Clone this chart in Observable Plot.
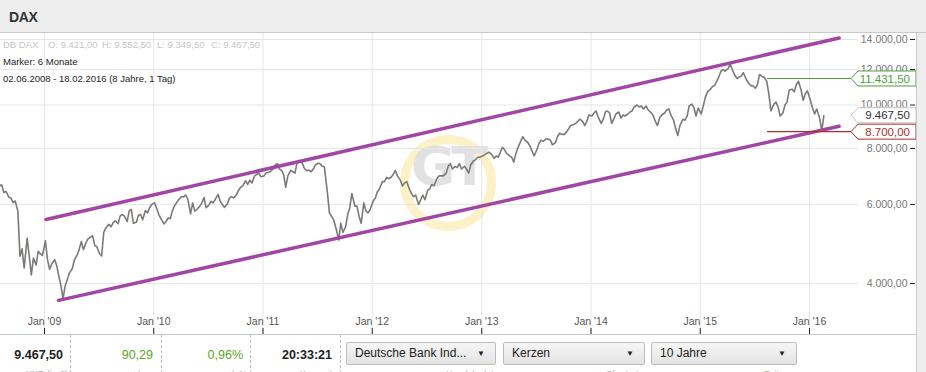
<!DOCTYPE html>
<html><head><meta charset="utf-8">
<script src="https://cdn.jsdelivr.net/npm/d3@7"></script>
<script src="https://cdn.jsdelivr.net/npm/@observablehq/plot@0.6"></script>
<style>
html,body{margin:0;padding:0;}
body{width:926px;height:372px;overflow:hidden;background:#eeeeee;font-family:Arial,"Liberation Sans",sans-serif;position:relative;}
#hdr{position:absolute;left:0;top:0;width:926px;height:32px;border-bottom:1px solid #c9c9c9;}
#hdr span{position:absolute;left:9px;top:9px;font-weight:bold;font-size:14px;color:#333;letter-spacing:-0.3px;}
#panel{position:absolute;left:0;top:33px;width:916px;height:339px;background:#fff;border-right:1px solid #c9c9c9;overflow:hidden;}
#wm{position:absolute;left:400px;top:102px;width:96px;height:96px;box-sizing:border-box;border:9px solid #fdf1c8;border-radius:50%;}
#wmt{position:absolute;left:400px;top:102px;width:96px;height:96px;line-height:96px;text-align:center;font:bold 54px "DejaVu Sans",Arial,sans-serif;color:#e1e1e1;letter-spacing:-3px;}
#chart{position:absolute;left:0;top:0;width:916px;height:301px;}
.info{position:absolute;left:3px;font-size:9.5px;white-space:nowrap;}
.info span{position:absolute;top:0;}
#bar{position:absolute;left:0;top:301px;width:916px;height:38px;border-top:1px solid #c9c9c9;}
.sep{position:absolute;top:0;height:38px;border-left:1px dashed #bdbdbd;}
.val{position:absolute;top:13px;font-size:12.5px;text-align:right;white-space:nowrap;}
.dd{position:absolute;top:7px;height:23px;box-sizing:border-box;border:1px solid #bdbdbd;border-radius:2px;background:linear-gradient(#f6f6f6,#e3e3e3);font-size:12px;color:#222;line-height:21px;padding-left:8px;}
.dd b{position:absolute;right:10px;top:0;font-size:8px;font-weight:normal;}
.sub{position:absolute;top:34px;font-size:9px;color:#aaa;white-space:nowrap;}
</style></head>
<body>
<div id="hdr"><span>DAX</span></div>
<div id="panel">
  <div id="wm"></div><div id="wmt">GT</div>
  <div id="chart"></div>
  <div class="info" style="top:6px;color:#c6c6c6;">
    <span style="left:0">DB DAX</span><span style="left:45px">O: 9.421,00</span><span style="left:99px">H: 9.552,50</span><span style="left:154px">L: 9.349,50</span><span style="left:208px">C: 9.467,50</span>
  </div>
  <div class="info" style="top:23px;color:#222;">Marker: 6 Monate</div>
  <div class="info" style="top:40px;color:#222;">02.06.2008 - 18.02.2016 (8 Jahre, 1 Tag)</div>
  <div id="bar">
    <div class="sep" style="left:70px"></div><div class="sep" style="left:161px"></div><div class="sep" style="left:250px"></div><div class="sep" style="left:340px"></div>
    <div class="val" style="right:853px;font-weight:bold;color:#222">9.467,50</div>
    <div class="val" style="right:763px;color:#5aa51e">90,29</div>
    <div class="val" style="right:673px;color:#5aa51e">0,96%</div>
    <div class="val" style="right:584px;font-weight:bold;color:#222">20:33:21</div>
    <div class="dd" style="left:346px;width:150px">Deutsche Bank Ind...<b>▼</b></div>
    <div class="dd" style="left:503px;width:142px">Kerzen<b>▼</b></div>
    <div class="dd" style="left:651px;width:146px">10 Jahre<b>▼</b></div>
    <div class="sub" style="left:26px">XXD (in €)</div>
    <div class="sub" style="left:132px">+/-</div>
    <div class="sub" style="left:226px">+/- %</div>
    <div class="sub" style="left:300px">Kurszeit</div>
    <div class="sub" style="left:446px">Handelsplatz</div>
    <div class="sub" style="left:606px">Chartart</div>
    <div class="sub" style="left:764px">Zeitraum</div>
  </div>
</div>
<script>
// ---- data ----
const days = ["04","11","18","25"];
const months = [
"2008-06","2008-07","2008-08","2008-09","2008-10","2008-11","2008-12",
"2009-01","2009-02","2009-03","2009-04","2009-05","2009-06","2009-07","2009-08","2009-09","2009-10","2009-11","2009-12",
"2010-01","2010-02","2010-03","2010-04","2010-05","2010-06","2010-07","2010-08","2010-09","2010-10","2010-11","2010-12",
"2011-01","2011-02","2011-03","2011-04","2011-05","2011-06","2011-07","2011-08","2011-09","2011-10","2011-11","2011-12",
"2012-01","2012-02","2012-03","2012-04","2012-05","2012-06","2012-07","2012-08","2012-09","2012-10","2012-11","2012-12",
"2013-01","2013-02","2013-03","2013-04","2013-05","2013-06","2013-07","2013-08","2013-09","2013-10","2013-11","2013-12",
"2014-01","2014-02","2014-03","2014-04","2014-05","2014-06","2014-07","2014-08","2014-09","2014-10","2014-11","2014-12",
"2015-01","2015-02","2015-03","2015-04","2015-05","2015-06","2015-07","2015-08","2015-09","2015-10","2015-11","2015-12",
"2016-01","2016-02"];
const dax = [
[6950,6780,6650,6450],[6280,6200,6420,6480],[6600,6640,6380,6420],[6230,6200,6060,6110],[5800,4600,4780,4330],[5050,4600,4180,4560],[4400,4720,4660,4620],
[4980,4520,4300,4420],[4520,4380,4150,3950],[3700,3950,4080,4220],[4320,4520,4600,4720],[4960,4760,4900,5020],[5080,5110,4860,4830],[4660,4610,5200,5320],[5420,5350,5460,5520],[5440,5660,5700,5650],[5500,5800,5850,5450],[5480,5680,5700,5550],[5820,5750,5900,6000],
[6050,5880,5700,5580],[5430,5500,5600,5580],[5800,5950,6050,6150],[6250,6240,6300,6160],[5720,6050,5800,5850],[5950,6060,6220,5900],[5980,6100,6050,6150],[6320,6100,6000,5910],[6020,6200,6250,6210],[6300,6450,6550,6600],[6780,6650,6800,6700],[6950,7000,7050,6920],
[6950,7050,7070,7100],[7200,7350,7400,7200],[7150,7000,6550,6950],[7150,7100,7050,7450],[7520,7450,7250,7150],[7150,7100,7200,7350],[7420,7400,7300,7280],[6400,5750,5650,5550],[5250,5000,5450,5200],[5350,5700,5900,6350],[5950,5950,5650,5450],[6050,5800,5750,5850],
[6100,6200,6400,6500],[6750,6750,6900,6850],[6900,7000,7150,6950],[6800,6600,6700,6750],[6500,6350,6250,6300],[6000,6150,6300,6150],[6450,6500,6650,6600],[6850,6950,6950,6950],[7050,7300,7400,7200],[7300,7250,7400,7200],[7300,7200,7050,7350],[7500,7550,7650,7650],
[7700,7750,7800,7850],[7750,7600,7700,7650],[7850,8050,7950,7800],[7700,7650,7460,7800],[8100,8300,8500,8350],[8250,8100,7900,7700],[7950,8200,8350,8300],[8400,8400,8350,8150],[8250,8500,8650,8600],[8600,8700,8850,9000],[9050,9100,9200,9300],[9200,9000,9200,9500],
[9450,9600,9700,9400],[9100,9300,9650,9700],[9600,9100,9300,9550],[9650,9350,9500,9450],[9550,9650,9700,9900],[10000,9900,9950,9800],[9950,9750,9650,9550],[9200,9000,9350,9500],[9600,9750,9800,9500],[9250,8850,8550,9000],[9300,9250,9450,9950],[10050,9850,9450,9850],
[9550,9950,10400,10700],[10850,11000,11050,11300],[11550,11900,12000,11900],[12050,12350,12000,11700],[11450,11550,11600,11800],[11400,11200,11050,11050],[10900,11100,11700,11600],[11500,11300,10600,9700],[10050,10150,9900,9450],[9600,10000,10150,10800],[10850,10700,11100,11300],[10800,10250,10600,10750],
[10250,9850,9550,9800],[9350,8750,9467.5]
];
const channelUpper = [{date:"2009-01-06", value:5556},{date:"2016-04-09", value:14108}];
const channelLower = [{date:"2009-02-17", value:3668},{date:"2016-04-09", value:8966}];
const levels = [
  {value:11431.5, start:"2015-08-14", color:"#4e9e3c", text:"#4e9e3c", box:"#4e9e3c", line:true},
  {value:9467.5,  start:null,         color:"#cccccc", text:"#333333", box:"#c8c8c8", line:false},
  {value:8700,    start:"2015-08-14", color:"#b22b2b", text:"#b22b2b", box:"#b22b2b", line:true}
];
const xTickYears = ["2009","2010","2011","2012","2013","2014","2015","2016"];
const yTicks = [4000,6000,8000,10000,12000,14000];

// ---- build ----
const parse = d3.utcParse("%Y-%m-%d");
const series = [];
months.forEach((m,i)=>dax[i].forEach((v,j)=>series.push({date:parse(`${m}-${days[j]}`), value:v})));
const up = channelUpper.map(d=>({date:parse(d.date), value:d.value}));
const lo = channelLower.map(d=>({date:parse(d.date), value:d.value}));
const xTicks = xTickYears.map(y=>parse(`${y}-01-01`));
const de = d3.formatLocale({decimal:",", thousands:".", grouping:[3], currency:["","€"]});
const fmt = de.format(",.2f");

const chart = Plot.plot({
  width:916, height:301, margin:0,
  style:{fontFamily:"Arial, 'Liberation Sans', sans-serif", fontSize:"10.5px", background:"transparent", overflow:"visible"},
  x:{type:"utc", domain:[parse("2009-01-01"), parse("2016-01-01")], range:[44,809], axis:null},
  y:{type:"log", domain:[4000,14000], range:[250,6], axis:null},
  marks:[
    Plot.gridX(xTicks, {stroke:"#e6e6e6", strokeOpacity:1}),
    Plot.gridY(yTicks, {stroke:"#e6e6e6", strokeOpacity:1, insetRight:58}),
    Plot.line(series, {x:"date", y:"value", stroke:"#7d7977", strokeWidth:1.6, clip:true}),
    Plot.line(up, {x:"date", y:"value", stroke:"#a246a6", strokeWidth:3.5}),
    Plot.line(lo, {x:"date", y:"value", stroke:"#a246a6", strokeWidth:3.5}),
    Plot.tickX(xTicks, {x:d=>d, stroke:"#222", insetTop:295}),
    Plot.text(xTicks, {x:d=>d, frameAnchor:"bottom", dy:-10, text:d=>"Jan '"+String(d.getUTCFullYear()).slice(2), fill:"#555", fontSize:10.5}),
    Plot.tickY(yTicks, {y:d=>d, stroke:"#222", insetLeft:910, insetRight:1}),
    Plot.text(yTicks, {y:d=>d, frameAnchor:"right", dx:-9, textAnchor:"end", text:d=>fmt(d), fill:"#777", fontSize:10.5})
  ]
});
document.getElementById("chart").appendChild(chart);

// level lines and price boxes (positioned via the plot's own scales)
const sx = chart.scale("x"), sy = chart.scale("y");
const svg = d3.select(chart);
const tip = 851, right = 916, half = 7.5;
levels.forEach(l=>{
  const y = sy.apply(l.value);
  if (l.line) {
    svg.append("line").attr("x1", sx.apply(parse(l.start))).attr("x2", tip).attr("y1", y).attr("y2", y)
      .attr("stroke", l.color).attr("stroke-width", 1.2);
  }
  svg.append("path").attr("d", `M${tip},${y}L${tip+7},${y-half}L${right},${y-half}L${right},${y+half}L${tip+7},${y+half}Z`)
    .attr("fill", "#fff").attr("stroke", l.box).attr("stroke-width", 1);
  svg.append("text").attr("x", 910).attr("y", y).attr("dy", "0.36em").attr("text-anchor", "end")
    .attr("fill", l.text).attr("font-size", 11.5).text(fmt(l.value));
});
</script>
</body></html>
